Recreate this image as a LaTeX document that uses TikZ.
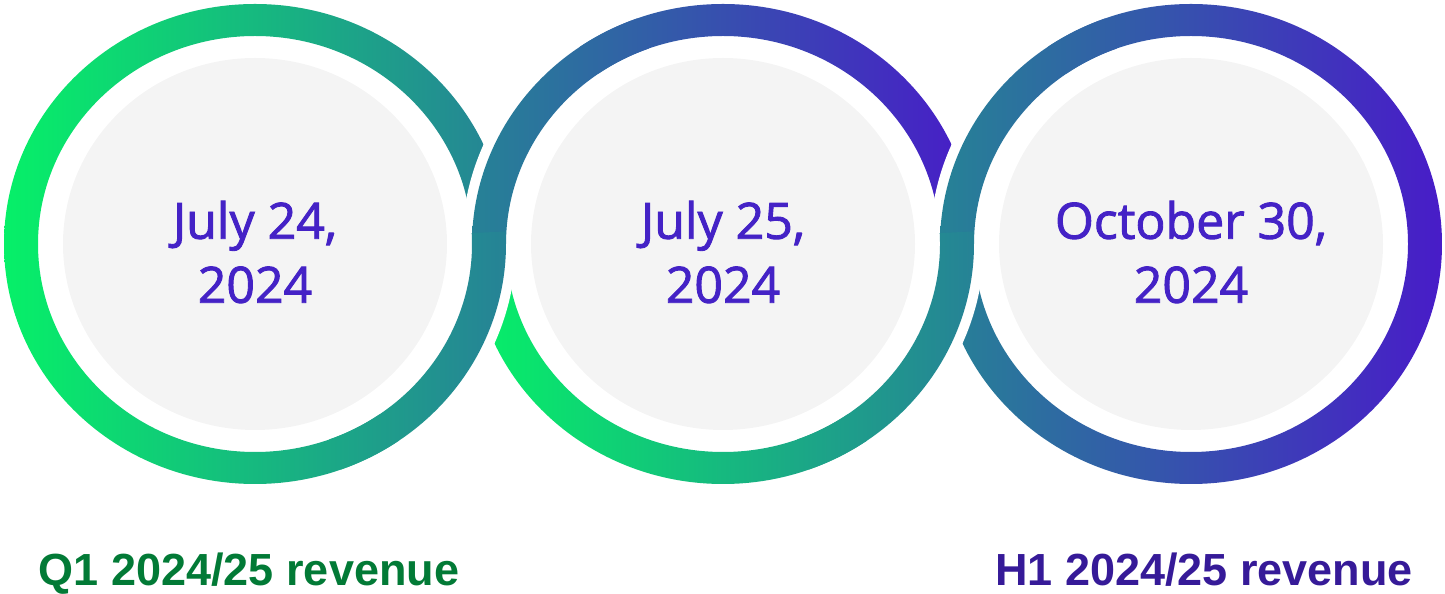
\documentclass[tikz,border=0pt]{standalone}
\usepackage{fontspec}
\usetikzlibrary{calc}
\newfontfamily\datefont[FakeBold=1.8]{Open Sans}
\newfontfamily\labelfont{Liberation Sans}
\definecolor{ringgreen}{HTML}{06F068}
\definecolor{ringteal}{HTML}{268296}
\definecolor{ringblue}{HTML}{2E5AAA}
\definecolor{ringpurple}{HTML}{481CC8}
\definecolor{discgray}{HTML}{F4F4F4}
\definecolor{datepurple}{HTML}{4422C6}
\definecolor{labelgreen}{HTML}{027A36}
\definecolor{labelpurple}{HTML}{361A98}
\newcommand\ringband[3]{($(#1)+(#2:251 and 240)$) arc[start angle=#2, end angle=#3, x radius=251, y radius=240] -- ($(#1)+(#3:217 and 208)$) arc[start angle=#3, end angle=#2, x radius=217, y radius=208] -- cycle}
\newcommand\gapband[3]{($(#1)+(#2:261 and 250)$) arc[start angle=#2, end angle=#3, x radius=261, y radius=250] -- ($(#1)+(#3:207 and 198)$) arc[start angle=#3, end angle=#2, x radius=207, y radius=198] -- cycle}
\newcommand\paintband[4]{\begin{scope}
    \clip \ringband{#1}{#2}{#3};
    \shade[#4] ($(#1)+(-251,-240)$) rectangle ($(#1)+(251,240)$);
  \end{scope}}
\tikzset{
  greenring/.style={left color=ringgreen, right color=ringteal},
  purplering/.style={left color=ringteal, middle color=ringblue, right color=ringpurple},
  datetext/.style={font=\datefont\fontsize{50}{64}\selectfont, text=datepurple, align=center},
  revlabel/.style={font=\labelfont\bfseries\fontsize{45}{54}\selectfont, anchor=base},
}
\begin{document}
\begin{tikzpicture}[x=1pt, y=1pt]
  \useasboundingbox (0,0) rectangle (1445,594);
  \coordinate (c1) at (255,350);
  \coordinate (c2) at (723,350);
  \coordinate (c3) at (1191,350);
  \fill[discgray] (c1) ellipse[x radius=192, y radius=186];
  \fill[discgray] (c2) ellipse[x radius=192, y radius=186];
  \fill[discgray] (c3) ellipse[x radius=192, y radius=186];
  \paintband{c1}{0}{360}{greenring}
  \paintband{c2}{180}{360}{greenring}
  \paintband{c2}{0}{180}{purplering}
  \paintband{c3}{0}{360}{purplering}
  % over and under at the crossings
  \fill[white] \gapband{c2}{180}{125};
  \paintband{c2}{180}{110}{purplering}
  \fill[white] \gapband{c1}{360}{305};
  \paintband{c1}{363}{290}{greenring}
  \fill[white] \gapband{c3}{180}{125};
  \paintband{c3}{180}{110}{purplering}
  \fill[white] \gapband{c2}{360}{305};
  \paintband{c2}{363}{290}{greenring}
  \node[datetext] (d1) at ($(c1)+(0,-8)$) {July 24,\\2024};
  \node[datetext] (d2) at ($(c2)+(0,-8)$) {July 25,\\2024};
  \node[datetext] (d3) at ($(c3)+(0,-8)$) {October 30,\\2024};
  \node[revlabel, text=labelgreen] (q1) at (249,8) {Q1 2024/25 revenue};
  \node[revlabel, text=labelpurple] (h1) at (1204,8) {H1 2024/25 revenue};
\end{tikzpicture}
\end{document}
